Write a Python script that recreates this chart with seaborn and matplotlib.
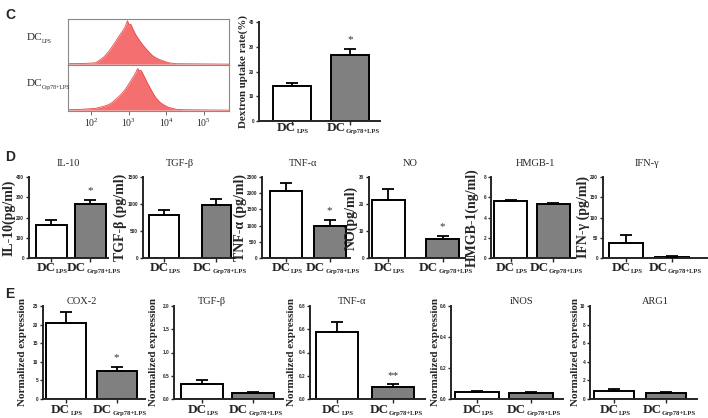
import matplotlib
matplotlib.use("Agg")
import matplotlib.pyplot as plt
import pandas as pd
import seaborn as sns

# groups
groups = ["DC_LPS", "DC_Grp78+LPS"]
group_subs = ["LPS", "Grp78+LPS"]

# panel C - flow histograms (log10 fluorescence, relative count)
hist_lps_x = [1.40, 1.80, 2.12, 2.21, 2.35, 2.48, 2.57, 2.66, 2.75, 2.84, 2.91, 2.97, 3.02, 3.06,
              3.12, 3.19, 3.28, 3.37, 3.46, 3.55, 3.63, 3.72, 3.81, 3.90, 4.00, 4.08, 4.25, 5.67]
hist_lps_y = [0.01, 0.015, 0.03, 0.08, 0.17, 0.30, 0.41, 0.53, 0.65, 0.76, 0.86, 1.00, 0.90, 0.92,
              0.80, 0.68, 0.56, 0.45, 0.36, 0.27, 0.20, 0.15, 0.11, 0.08, 0.05, 0.03, 0.01, 0.0]
hist_grp_x = [1.40, 1.77, 2.12, 2.21, 2.35, 2.48, 2.57, 2.66, 2.75, 2.84, 2.93, 3.02, 3.09, 3.15, 3.20,
              3.24, 3.29, 3.33, 3.42, 3.48, 3.55, 3.63, 3.72, 3.81, 3.90, 4.00, 4.08, 4.26, 4.45, 5.67]
hist_grp_y = [0.01, 0.02, 0.04, 0.06, 0.09, 0.13, 0.18, 0.25, 0.32, 0.40, 0.50, 0.62, 0.72, 0.80, 0.88,
              0.96, 0.90, 0.92, 0.77, 0.66, 0.55, 0.42, 0.29, 0.20, 0.14, 0.09, 0.06, 0.02, 0.01, 0.0]
hist_ticks = [2, 3, 4, 5]
hist_ticklabels = [r"$10^2$", r"$10^3$", r"$10^4$", r"$10^5$"]

# panel C - dextran uptake
dex_mean = [14.0, 26.7]
dex_err = [1.4, 2.5]

# panel D - cytokines
d_titles = ["IL-10", "TGF-β", "TNF-α", "NO", "HMGB-1", "IFN-γ"]
d_ylabels = ["IL-10(pg/ml)", "TGF-β (pg/ml)", "TNF-α (pg/ml)", "NO(pg/ml)", "HMGB-1(ng/ml)", "IFN-γ (pg/ml)"]
d_means = [[165, 265], [800, 990], [2080, 1000], [21.5, 7.2], [5.62, 5.32], [38, 3]]
d_errs = [[22, 23], [90, 110], [240, 180], [4.0, 1.1], [0.13, 0.09], [18, 2]]
d_ymax = [400, 1500, 2500, 30, 8, 200]
d_ystep = [100, 500, 500, 10, 2, 50]
d_stars = ["*", "", "*", "*", "", ""]

# panel E - expression
e_titles = ["COX-2", "TGF-β", "TNF-α", "iNOS", "ARG1"]
e_means = [[20.5, 7.5], [0.33, 0.135], [0.575, 0.105], [0.045, 0.037], [0.85, 0.6]]
e_errs = [[3.0, 1.2], [0.08, 0.025], [0.09, 0.02], [0.007, 0.006], [0.25, 0.1]]
e_ymax = [25, 2.0, 0.8, 0.6, 10]
e_ystep = [5, 0.5, 0.2, 0.2, 2]
e_stars = ["*", "", "**", "", ""]

# layout in pixels: left, right, center0, center1, bar width
W, H = 708, 418
c_layout = (259, 380, 291.5, 350, 38)
d_layout = [(29, 108, 51, 90.5, 31), (143, 235, 164, 216.5, 30), (262, 350, 286, 329.5, 32),
            (369, 465, 388, 442.5, 33), (491, 575, 510.5, 553, 33), (603, 707, 626, 672, 34)]
e_layout = [(43, 145, 65.5, 116.5, 40), (174, 283, 202, 252.5, 42), (310, 425, 336.5, 393, 42),
            (451, 563, 477, 530.5, 44), (590, 697, 614, 666, 40)]
d_label_x = [9, 120, 240, 351, 472, 583]
e_label_x = [23, 154, 292, 435, 575]
d_title_x = [68, 180, 303, 410, 535, 647]
e_title_x = [82, 212, 352, 522, 655]

sns.set_style("ticks")
plt.rcParams["font.family"] = ["Liberation Serif", "DejaVu Serif"]
plt.rcParams["mathtext.fontset"] = "custom"
plt.rcParams["mathtext.rm"] = "Liberation Serif"
plt.rcParams["mathtext.bf"] = "Liberation Serif:bold"
plt.rcParams["mathtext.it"] = "Liberation Serif:italic"

fig = plt.figure(figsize=(W / 100, H / 100), dpi=100)


def rect(left, right, top, bottom):
    return [left / W, 1 - bottom / H, (right - left) / W, (bottom - top) / H]


def group_label(ax, xi, sub, dy, size=9.5, subsize=4.8):
    # "DC" with a small subscript, centred on the bar
    dc_w = 1.42 * size
    sub_w = 0.46 * subsize * len(sub)
    dx = (dc_w - sub_w) / 2
    ax.annotate("DC", xy=(xi, 0), xycoords=("data", "axes fraction"), xytext=(dx, dy),
                textcoords="offset points", ha="right", va="center", fontsize=size,
                fontweight="bold", annotation_clip=False)
    ax.annotate(sub, xy=(xi, 0), xycoords=("data", "axes fraction"), xytext=(dx + 0.3, dy - 2.4),
                textcoords="offset points", ha="left", va="center", fontsize=subsize,
                fontweight="bold", annotation_clip=False)


def bar_panel(lay, top, bottom, means, errs, ymax, ystep, star, ylabel, label_x, lsize, tick_y):
    left, right, c0, c1, bw = lay
    span = c1 - c0
    ax = fig.add_axes(rect(left, right, top, bottom))
    df = pd.DataFrame({"group": groups, "value": means})
    sns.barplot(data=df, x="group", y="value", hue="group", order=groups, hue_order=groups,
                palette=["white", "#808080"], edgecolor="black", linewidth=1.4,
                width=bw / span, legend=False, ax=ax)
    ax.errorbar([0, 1], means, yerr=[[0, 0], errs], fmt="none", ecolor="black",
                elinewidth=1.3, capsize=4, capthick=1.3, zorder=4)
    ax.set_xlim((left - c0) / span, (right - c0) / span)
    ax.set_ylim(0, ymax)
    ticks = [round(i * ystep, 4) for i in range(int(round(ymax / ystep)) + 1)]
    ax.set_yticks(ticks)
    ax.set_yticklabels([f"{t:g}" if ystep >= 1 else f"{t:.1f}" for t in ticks],
                       fontsize=3.4, fontweight="bold", family="Liberation Sans")
    ax.set_xticks([0, 1])
    ax.set_xticklabels(["", ""])
    for xi, sub in enumerate(group_subs):
        group_label(ax, xi, sub, -(tick_y - bottom) * 0.72)
    ax.set_xlabel("")
    ax.set_ylabel("")
    for s in ["top", "right"]:
        ax.spines[s].set_visible(False)
    for s in ["left", "bottom"]:
        ax.spines[s].set_linewidth(1.4)
    ax.tick_params(axis="y", length=2.5, width=1, pad=1)
    ax.tick_params(axis="x", length=3, width=1, pad=1)
    if star:
        ax.annotate(star, xy=(1, means[1] + errs[1]), xytext=(0, 3), textcoords="offset points",
                    ha="center", va="bottom", fontsize=8, color="#333333")
    fig.text(label_x / W, 1 - (top + bottom) / 2 / H, ylabel, rotation=90, ha="center",
             va="center", fontsize=lsize, fontweight="bold")
    return ax


# panel letters
fig.text(5 / W, 1 - 15 / H, "C", fontsize=10, fontweight="bold", family="Liberation Sans", va="center")
fig.text(5 / W, 1 - 157 / H, "D", fontsize=10, fontweight="bold", family="Liberation Sans", va="center")
fig.text(5 / W, 1 - 294 / H, "E", fontsize=10, fontweight="bold", family="Liberation Sans", va="center")

# panel C histograms
hist_sets = [(hist_lps_x, hist_lps_y, 19, 65, "LPS"),
             (hist_grp_x, hist_grp_y, 65, 111, "Grp78+LPS")]
for i, (hx, hy, top, bottom, sub) in enumerate(hist_sets):
    ax = fig.add_axes(rect(68, 229, top, bottom))
    ax.fill_between(hx, hy, 0, color="#f46f6f", linewidth=0)
    sns.lineplot(x=hx, y=hy, color="#e84848", linewidth=0.6, ax=ax)
    ax.set_xlim(1.39, 5.67)
    ax.set_ylim(-0.02, 1.04)
    ax.set_yticks([])
    for s in ax.spines.values():
        s.set_color("#8a8a8a")
        s.set_linewidth(0.8)
    if i == 1:
        ax.set_xticks(hist_ticks)
        ax.set_xticklabels(hist_ticklabels, fontsize=7)
        ax.tick_params(axis="x", length=3, width=0.6, color="#555555", pad=1)
    else:
        ax.set_xticks([])
    ymid = 1 - (top + bottom) / 2 / H + 0.01
    fig.text(27 / W, ymid, "DC", fontsize=8, ha="left", va="center")
    fig.text(42 / W, ymid - 0.008, sub, fontsize=4.2, ha="left", va="center")

# panel C bars
bar_panel(c_layout, 22, 121, dex_mean, dex_err, 40, 10, "*", "Dextron uptake rate(%)", 243, 7.8, 128)

# panel D
for k in range(6):
    bar_panel(d_layout[k], 177, 258, d_means[k], d_errs[k], d_ymax[k], d_ystep[k], d_stars[k],
              d_ylabels[k], d_label_x[k], 10, 268)
    fig.text(d_title_x[k] / W, 1 - 163 / H, d_titles[k], ha="center", va="center", fontsize=7.5)

# panel E
for k in range(5):
    bar_panel(e_layout[k], 306, 399, e_means[k], e_errs[k], e_ymax[k], e_ystep[k], e_stars[k],
              "Normalized expression", e_label_x[k], 8, 410)
    fig.text(e_title_x[k] / W, 1 - 302 / H, e_titles[k], ha="center", va="center", fontsize=7.5)

fig.savefig("out.png", dpi=100)
plt.close(fig)
